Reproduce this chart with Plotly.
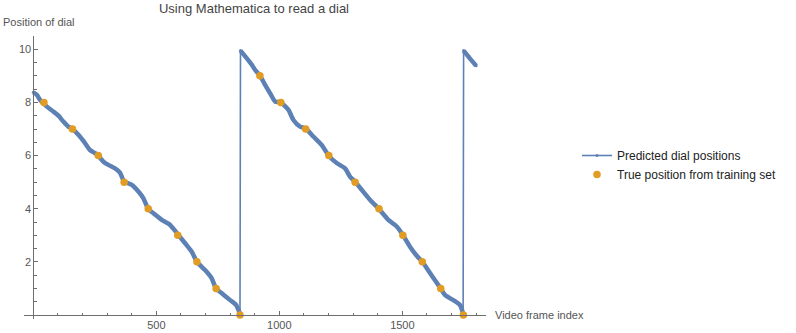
import plotly.graph_objects as go

# Predicted dial positions, one list per descending segment
seg1_x = [0, 14, 27, 54, 81, 102, 122, 142, 159, 183, 210, 230, 251, 264, 285, 305, 332, 352, 369,
          400, 427, 447, 467, 488, 522, 556, 587, 617, 644, 665, 698, 725, 743, 766, 800, 824, 840]
seg1_y = [8.38, 8.29, 8.10, 7.85, 7.66, 7.50, 7.28, 7.09, 7.00, 6.78, 6.47, 6.21, 6.09, 5.99, 5.77,
          5.65, 5.52, 5.36, 5.02, 4.90, 4.65, 4.40, 3.99, 3.83, 3.58, 3.39, 3.04, 2.70, 2.38, 2.00,
          1.69, 1.38, 0.99, 0.82, 0.56, 0.38, 0.05]
seg2_x = [842, 867, 888, 901, 921, 942, 962, 983, 1006, 1037, 1057, 1084, 1107, 1138, 1172, 1201,
          1233, 1267, 1287, 1308, 1335, 1369, 1405, 1443, 1477, 1502, 1531, 1561, 1581, 1613, 1637,
          1656, 1674, 1707, 1734, 1747]
seg2_y = [9.95, 9.67, 9.42, 9.23, 9.01, 8.66, 8.35, 8.03, 8.00, 7.72, 7.34, 7.09, 7.02, 6.72, 6.40,
          5.99, 5.72, 5.52, 5.21, 5.02, 4.71, 4.33, 3.99, 3.58, 3.33, 3.01, 2.57, 2.20, 2.01, 1.57,
          1.25, 1.00, 0.75, 0.56, 0.38, 0.05]
seg3_x = [1749, 1775, 1800]
seg3_y = [9.95, 9.65, 9.38]

# True positions from training set
true_x = [43, 159, 264, 369, 467, 587, 665, 743, 840,
          921, 1006, 1107, 1201, 1308, 1405, 1502, 1581, 1656, 1748]
true_y = [8, 7, 6, 5, 4, 3, 2, 1, 0,
          9, 8, 7, 6, 5, 4, 3, 2, 1, 0]

x_major = [500, 1000, 1500]
y_major = [2, 4, 6, 8, 10]

BLUE = "#5E81B5"
ORANGE = "#E19C24"
AXIS = "#6e6e6e"
LABEL = "#555555"
FONT = "Liberation Sans, Arial, sans-serif"

full_x = seg1_x + seg2_x + seg3_x
full_y = seg1_y + seg2_y + seg3_y
thick_x = seg1_x + [None] + seg2_x + [None] + seg3_x
thick_y = seg1_y + [None] + seg2_y + [None] + seg3_y

fig = go.Figure()
fig.add_trace(go.Scatter(x=thick_x, y=thick_y, mode="lines", showlegend=False,
                         line=dict(color=BLUE, width=4.5, shape="spline", smoothing=0.6),
                         hoverinfo="skip"))
fig.add_trace(go.Scatter(x=full_x, y=full_y, mode="lines+markers", name="Predicted dial positions",
                         line=dict(color=BLUE, width=1.6), marker=dict(color=BLUE, size=3)))
fig.add_trace(go.Scatter(x=true_x, y=true_y, mode="markers", name="True position from training set",
                         marker=dict(color=ORANGE, size=7.5)))

x_range = [-38, 1840]
y_range = [-0.15, 10.5]

x_minor = [v for v in range(100, 1900, 100) if v not in x_major]
y_minor = [v / 2 for v in range(1, 21) if (v / 2) not in y_major]

fig.update_layout(
    width=796, height=333,
    margin=dict(l=24, r=310, t=36, b=14, autoexpand=False),
    paper_bgcolor="white", plot_bgcolor="white",
    font=dict(family=FONT, size=11, color=LABEL),
    title=dict(text="Using Mathematica to read a dial", x=(254 / 796), xanchor="center",
               y=1 - 8 / 333, yanchor="middle", font=dict(size=13, color="#444444")),
    xaxis=dict(range=x_range, showgrid=False, zeroline=False, showline=True, linecolor=AXIS,
               linewidth=1, anchor="free", position=(0 - y_range[0]) / (y_range[1] - y_range[0]),
               automargin=False,
               tickvals=x_major, ticks="inside", ticklen=4, tickcolor=AXIS,
               tickfont=dict(size=11, color=LABEL),
               minor=dict(tickvals=x_minor, ticks="inside", ticklen=2.5, tickcolor=AXIS)),
    yaxis=dict(range=y_range, showgrid=False, zeroline=False, showline=True, linecolor=AXIS,
               linewidth=1, anchor="free", position=(0 - x_range[0]) / (x_range[1] - x_range[0]),
               automargin=False,
               tickvals=y_major, ticks="inside", ticklen=4, tickcolor=AXIS,
               tickfont=dict(size=11, color=LABEL),
               minor=dict(tickvals=y_minor, ticks="inside", ticklen=2.5, tickcolor=AXIS)),
    legend=dict(x=(577 - 24) / 462, y=1 - (141 - 36) / 283, xanchor="left", yanchor="top",
                font=dict(size=12, color="#222222"),
                bgcolor="rgba(0,0,0,0)", itemwidth=30, tracegroupgap=2),
    annotations=[
        dict(text="Position of dial", xref="paper", yref="paper", x=-23 / 462, y=1 + 14 / 283,
             xanchor="left", yanchor="middle", showarrow=False, font=dict(size=11, color=LABEL)),
        dict(text="Video frame index", xref="paper", yref="y", x=1 + 7 / 462, y=0,
             xanchor="left", yanchor="middle", showarrow=False, font=dict(size=11, color=LABEL)),
    ],
)

fig.write_html("out.html")
